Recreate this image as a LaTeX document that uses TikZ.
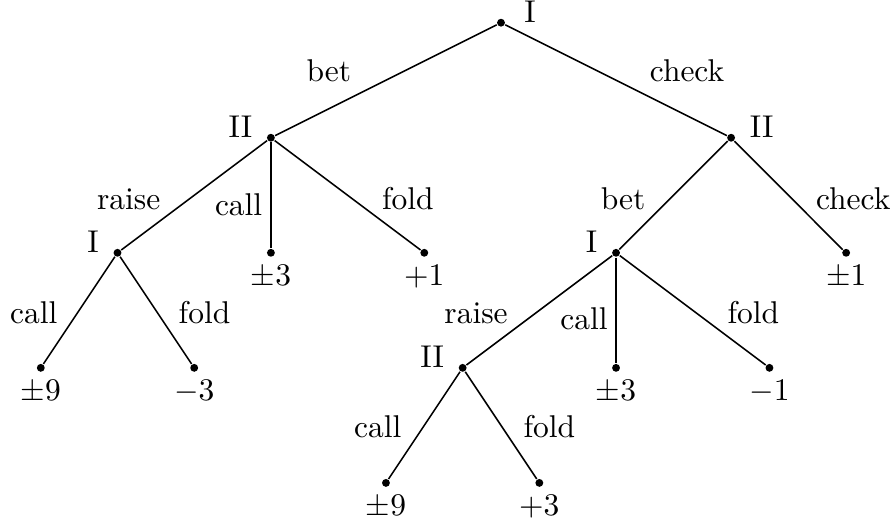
\documentclass[tikz,border=0pt]{standalone}
\usetikzlibrary{positioning}

\begin{document}
\begin{tikzpicture}[
  x=0.856cm, y=0.856cm,
  line width=0.5pt,
  dot/.style={circle, fill, inner sep=0pt, minimum size=2.5pt},
  ownL/.style={label={[anchor=base east, inner sep=0pt, xshift=-4.2pt]left:#1}},
  ownR/.style={label={[anchor=base west, inner sep=0pt, xshift=#1]right:I}},
  ownRII/.style={label={[anchor=base west, inner sep=0pt, xshift=4.2pt]right:II}},
  pay/.style={label={[anchor=base, inner sep=0pt, yshift=-8.95pt]below:$#1$}},
  act/.style={inner sep=0pt}
]
\useasboundingbox (-6.532,-6.523) rectangle (5.150,0.296);
% decision nodes
\node[dot, ownR=5.7pt] (root) at (0,0) {};
\node[dot, ownL=II] (n1) at (-3,-1.5) {};
\node[dot, ownRII] (n2) at (3,-1.5) {};
\node[dot, ownL=I] (n11) at (-5,-3) {};
\node[dot, ownL=I] (n21) at (1.5,-3) {};
\node[dot, ownL=II] (n211) at (-0.5,-4.5) {};
% leaves with payoffs
\node[dot, pay=\pm3] (n12) at (-3,-3) {};
\node[dot, pay=+1] (n13) at (-1,-3) {};
\node[dot, pay=\pm1] (n22) at (4.5,-3) {};
\node[dot, pay=\pm9] (n111) at (-6,-4.5) {};
\node[dot, pay=-3] (n112) at (-4,-4.5) {};
\node[dot, pay=\pm3] (n212) at (1.5,-4.5) {};
\node[dot, pay=-1] (n213) at (3.5,-4.5) {};
\node[dot, pay=\pm9] (n2111) at (-1.5,-6) {};
\node[dot, pay=+3] (n2112) at (0.5,-6) {};
% moves with their labels
\foreach \a/\b/\t/\an/\dx/\dy in {
  root/n1/bet/east/-10.8/-0.3, root/n2/check/west/10.5/-0.45,
  n1/n11/raise/east/-10.5/-4.4, n1/n12/call/east/-2.5/-6.3, n1/n13/fold/west/10.7/-4.4,
  n2/n21/bet/east/-8.7/-4.4, n2/n22/check/west/8.5/-4.4,
  n11/n111/call/east/-6.7/-4.1, n11/n112/fold/west/7.0/-4.1,
  n21/n211/raise/east/-9.8/-4.3, n21/n212/call/east/-2.4/-6.2, n21/n213/fold/west/10.8/-4.1,
  n211/n2111/call/east/-7.0/-4.0, n211/n2112/fold/west/6.9/-4.0}
  \draw (\a) -- node[act, anchor=base \an, xshift=\dx pt, yshift=\dy pt] {\t} (\b);
\end{tikzpicture}
\end{document}
